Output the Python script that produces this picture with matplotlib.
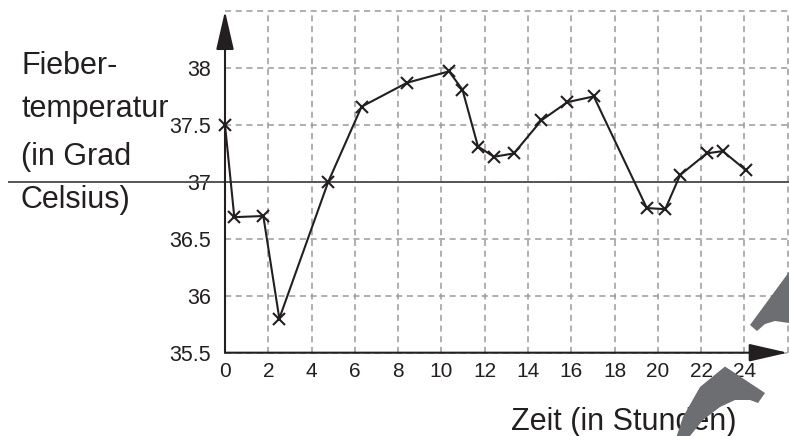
import matplotlib
matplotlib.use("Agg")
import matplotlib.pyplot as plt
from matplotlib.patches import Polygon
from matplotlib.transforms import blended_transform_factory

plt.rcParams['font.family'] = ['Liberation Sans', 'DejaVu Sans']

# Messwerte: Zeit in Stunden, Temperatur in Grad Celsius
zeit = [0, 0.43, 1.77, 2.51, 4.77, 6.31, 8.41, 10.35, 10.97, 11.69, 12.43, 13.35,
        14.62, 15.82, 17.04, 19.49, 20.34, 21.03, 22.26, 23.0, 24.08]
temperatur = [37.5, 36.69, 36.7, 35.8, 37.0, 37.66, 37.87, 37.97, 37.81, 37.31, 37.22, 37.25,
              37.54, 37.7, 37.75, 36.77, 36.76, 37.06, 37.25, 37.27, 37.1]

x_ticks = list(range(0, 27, 2))
x_labels = [str(t) for t in range(0, 25, 2)] + [""]
y_ticks = [35.5, 36, 36.5, 37, 37.5, 38, 38.5]
y_labels = ["35.5", "36", "36.5", "37", "37.5", "38", ""]

W, H = 789, 436
fig = plt.figure(figsize=(W / 100, H / 100), dpi=100)
ax = fig.add_axes([225 / W, 1 - 352.7 / H, (787.7 - 225) / W, (352.7 - 11) / H])
ax.set_xlim(0, 26)
ax.set_ylim(35.5, 38.5)

for s in ax.spines.values():
    s.set_visible(False)

ax.set_xticks(x_ticks)
ax.set_xticklabels(x_labels, fontsize=15)
ax.set_yticks(y_ticks)
ax.set_yticklabels(y_labels, fontsize=15.5)
ax.tick_params(length=0, pad=7, colors='#231f20')
ax.tick_params(axis='y', pad=10)
ax.grid(True, color='#9a9a9a', linestyle=(0, (4, 3)), linewidth=1.1, clip_on=False)
for gl in ax.get_xgridlines() + ax.get_ygridlines():
    gl.set_clip_on(False)

# durchgezogene Linie bei 37 Grad über die ganze Breite
trans = blended_transform_factory(fig.transFigure, ax.transData)
ax.plot([9 / W, 1], [37, 37], transform=trans, color='#555555', lw=1.4,
        clip_on=False, zorder=2)

# Achsen mit Pfeilspitzen
arrow = dict(arrowstyle='-|>,head_length=2.4,head_width=0.55', color='#231f20',
             lw=1.5, shrinkA=0, shrinkB=0, mutation_scale=10)
ax.annotate('', xy=(0, 38.5), xytext=(0, 35.5), arrowprops=arrow, annotation_clip=False, zorder=4)
ax.annotate('', xy=(26, 35.5), xytext=(0, 35.5), arrowprops=arrow, annotation_clip=False, zorder=4)

ax.plot(zeit, temperatur, color='#231f20', lw=1.5, marker='x', markersize=9,
        markeredgewidth=1.5, clip_on=False, zorder=5)

# Beschriftungen
for txt, y in [("Fieber-", 74), ("temperatur", 117), ("(in Grad", 165), ("Celsius)", 208)]:
    fig.text(21 / W, 1 - y / H, txt, fontsize=22, color='#231f20', ha='left', va='baseline')
fig.text(511 / W, 1 - 430 / H, "Zeit (in Stunden)", fontsize=22, color='#231f20',
         ha='left', va='baseline')

# graue Überdeckungen am rechten Rand
oben = [(750, 325), (789, 272), (789, 323), (775, 321), (765, 324), (757, 331)]
unten = [(676.7, 436), (683, 417), (700, 387), (725, 366.5), (765, 393), (758, 403),
         (750, 400), (735, 400), (720, 407), (703, 420), (690, 436)]
for pts in (oben, unten):
    fig.patches.append(Polygon([(px / W, 1 - py / H) for px, py in pts], closed=True,
                               transform=fig.transFigure, facecolor='#6d6e71',
                               edgecolor='none', zorder=10))

fig.savefig("out.png", dpi=100)
